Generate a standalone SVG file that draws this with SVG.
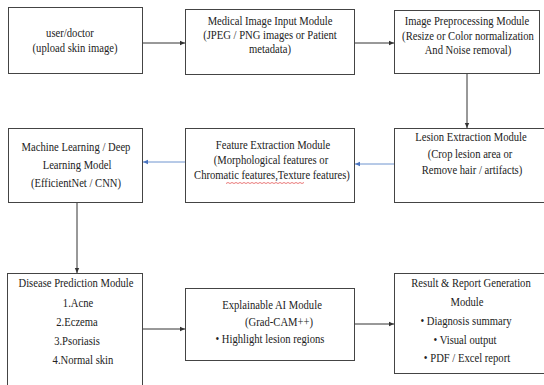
<svg xmlns="http://www.w3.org/2000/svg" width="544" height="385" viewBox="0 0 544 385">
<defs>
<style>
.box{fill:#fff;stroke:#444;stroke-width:1}
.t{font-family:"Liberation Serif","Times New Roman","DejaVu Serif",serif;font-size:12.5px;fill:#222;text-anchor:middle}
.c{fill:none;stroke:#333;stroke-width:1}
.b{fill:none;stroke:#6f94cf;stroke-width:1}
</style>
<marker id="ah" markerWidth="6" markerHeight="6" refX="5" refY="3" orient="auto" markerUnits="userSpaceOnUse">
<path d="M0,0.8 L5,3 L0,5.2 Z" fill="#333"/>
</marker>
<marker id="ahb" markerWidth="6" markerHeight="6" refX="5" refY="3" orient="auto" markerUnits="userSpaceOnUse">
<path d="M0,0.8 L5,3 L0,5.2 Z" fill="#4a74c0"/>
</marker>
</defs>
<rect width="544" height="385" fill="#fff"/>

<g id="connectors">
<line class="c" x1="143" y1="43" x2="185" y2="43" marker-end="url(#ah)"/>
<line class="c" x1="354" y1="43" x2="394" y2="43" marker-end="url(#ah)"/>
<line class="c" x1="467" y1="74" x2="467" y2="128" marker-end="url(#ah)" stroke="#777"/>
<line class="b" x1="394" y1="164" x2="355" y2="164" marker-end="url(#ahb)"/>
<line class="b" x1="185" y1="162" x2="143" y2="162" marker-end="url(#ahb)"/>
<line class="c" x1="77" y1="202" x2="77" y2="273" marker-end="url(#ah)" stroke="#777"/>
<line class="c" x1="143" y1="329" x2="185" y2="329" marker-end="url(#ah)"/>
<line class="c" x1="354" y1="324" x2="394" y2="324" marker-end="url(#ah)"/>
</g>

<g id="user">
<rect class="box" x="8.5" y="7.5" width="134" height="66"/>
<text class="t" transform="translate(70 0) scale(0.85 1)" y="37">user/doctor</text>
<text class="t" transform="translate(75 0) scale(0.85 1)" y="52">(upload skin image)</text>
</g>

<g id="input">
<rect class="box" x="185.5" y="9.5" width="169" height="65"/>
<text class="t" transform="translate(270 0) scale(0.85 1)" y="25">Medical Image Input Module</text>
<text class="t" transform="translate(270 0) scale(0.85 1)" y="39">(JPEG / PNG images or Patient</text>
<text class="t" transform="translate(270 0) scale(0.85 1)" y="53">metadata)</text>
</g>

<g id="preprocess">
<rect class="box" x="394.5" y="10.5" width="145" height="63"/>
<text class="t" transform="translate(467 0) scale(0.85 1)" y="25">Image Preprocessing Module</text>
<text class="t" transform="translate(468 0) scale(0.85 1)" y="40">(Resize or Color normalization</text>
<text class="t" transform="translate(468 0) scale(0.85 1)" y="54">And Noise removal)</text>
</g>

<g id="ml">
<rect class="box" x="8.5" y="128.5" width="134" height="74"/>
<text class="t" transform="translate(76 0) scale(0.85 1)" y="151">Machine Learning / Deep</text>
<text class="t" transform="translate(77 0) scale(0.85 1)" y="169">Learning Model</text>
<text class="t" transform="translate(76 0) scale(0.85 1)" y="187">(EfficientNet / CNN)</text>
</g>

<g id="feature">
<rect class="box" x="185.5" y="128.5" width="169" height="74"/>
<text class="t" transform="translate(273 0) scale(0.85 1)" y="149">Feature Extraction Module</text>
<text class="t" transform="translate(271 0) scale(0.85 1)" y="164">(Morphological features or</text>
<text class="t" transform="translate(272 0) scale(0.85 1)" y="179">Chromatic features,Texture features)</text>
<path d="M226,183.5 l2,-1 l2,1 l2,-1 l2,1 l2,-1 l2,1 l2,-1 l2,1 l2,-1 l2,1 l2,-1 l2,1 l2,-1 l2,1 l2,-1 l2,1 l2,-1 l2,1 l2,-1 l2,1 l2,-1 l2,1 l2,-1 l2,1 l2,-1 l2,1 l2,-1 l2,1 l2,-1 l2,1 l2,-1 l2,1 l2,-1 l2,1 l2,-1 l2,1 l2,-1 l2,1 l2,-1" fill="none" stroke="#e04040" stroke-width="0.7"/>
</g>

<g id="lesion">
<rect class="box" x="394.5" y="128.5" width="152" height="74"/>
<text class="t" transform="translate(471 0) scale(0.85 1)" y="141">Lesion Extraction Module</text>
<text class="t" transform="translate(470 0) scale(0.85 1)" y="158">(Crop lesion area or</text>
<text class="t" transform="translate(472 0) scale(0.85 1)" y="174">Remove hair / artifacts)</text>
</g>

<g id="disease">
<rect class="box" x="7.5" y="273.5" width="135" height="120"/>
<text class="t" transform="translate(76 0) scale(0.85 1)" y="287">Disease Prediction Module</text>
<text class="t" transform="translate(78 0) scale(0.85 1)" y="307">1.Acne</text>
<text class="t" transform="translate(77 0) scale(0.85 1)" y="326">2.Eczema</text>
<text class="t" transform="translate(77 0) scale(0.85 1)" y="345">3.Psoriasis</text>
<text class="t" transform="translate(83 0) scale(0.85 1)" y="364">4.Normal skin</text>
</g>

<g id="xai">
<rect class="box" x="185.5" y="288.5" width="169" height="72"/>
<text class="t" transform="translate(272 0) scale(0.85 1)" y="309">Explainable AI Module</text>
<text class="t" transform="translate(279 0) scale(0.85 1)" y="326">(Grad-CAM++)</text>
<text class="t" transform="translate(270 0) scale(0.85 1)" y="343">• Highlight lesion regions</text>
</g>

<g id="result">
<rect class="box" x="394.5" y="273.5" width="152" height="100"/>
<text class="t" transform="translate(471 0) scale(0.85 1)" y="287">Result &amp; Report Generation</text>
<text class="t" transform="translate(467 0) scale(0.85 1)" y="306">Module</text>
<text class="t" transform="translate(466 0) scale(0.85 1)" y="325">• Diagnosis summary</text>
<text class="t" transform="translate(465 0) scale(0.85 1)" y="344">• Visual output</text>
<text class="t" transform="translate(467 0) scale(0.85 1)" y="362">• PDF / Excel report</text>
</g>
</svg>
